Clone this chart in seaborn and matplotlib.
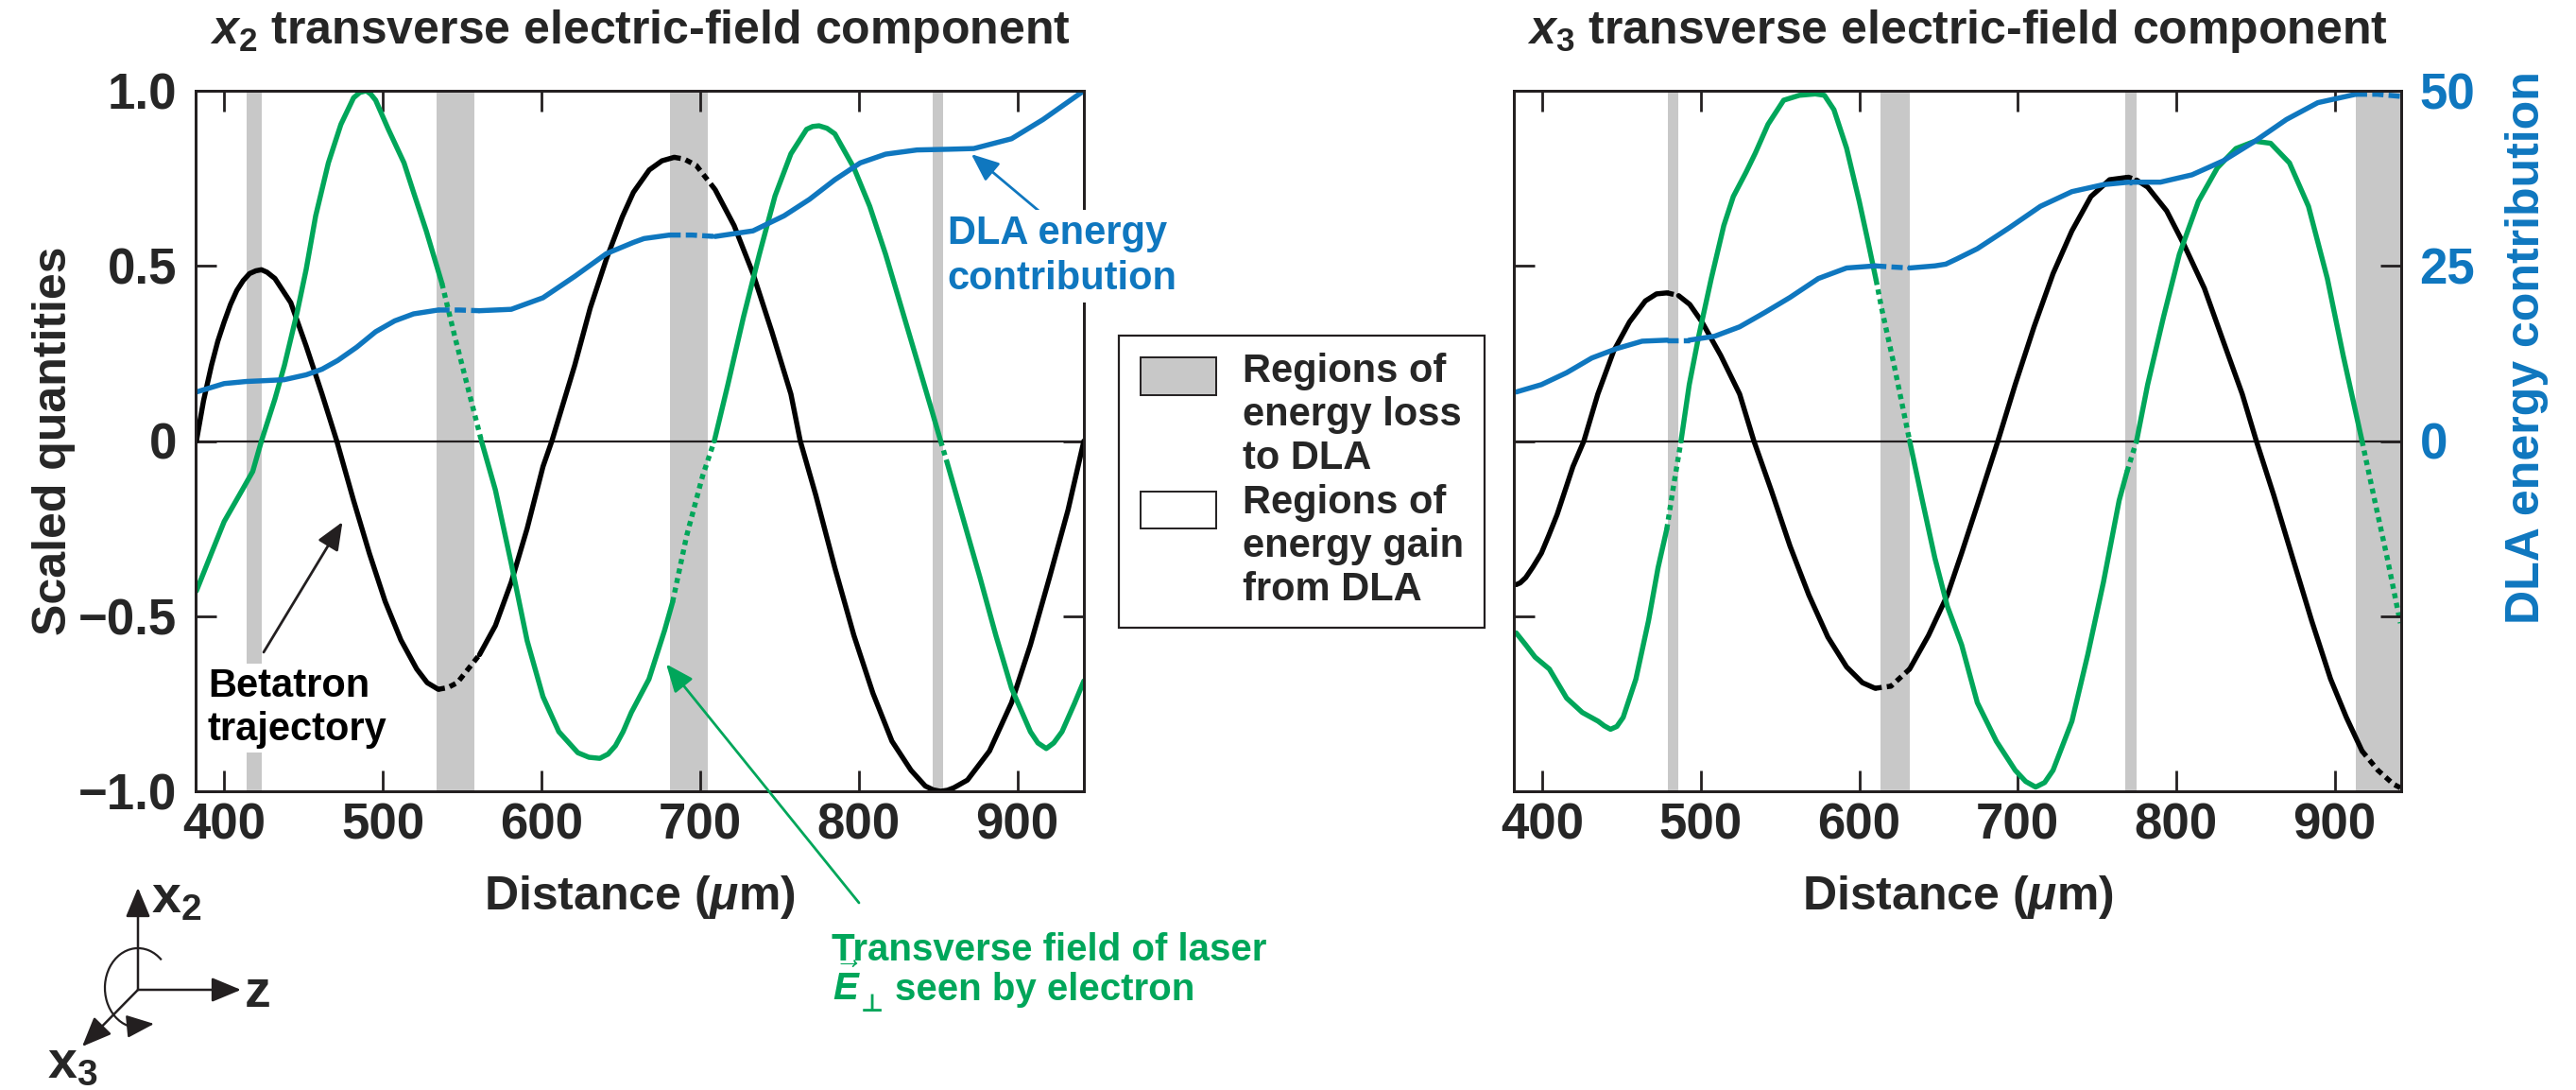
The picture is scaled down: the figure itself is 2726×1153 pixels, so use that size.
import matplotlib
matplotlib.use("Agg")
import matplotlib.pyplot as plt
import seaborn as sns
from matplotlib.patches import Rectangle, Arc

# ---------------- data ----------------
x_ticks = [400, 500, 600, 700, 800, 900]
y_ticks = [-1.0, -0.5, 0.0, 0.5, 1.0]
y_tick_labels = ["\u22121.0", "\u22120.5", "0", "0.5", "1.0"]
dla_ticks = [-25, 0, 25, 50]
dla_tick_labels = ["", "0", "25", "50"]

# ---- x2 panel ----
x2_loss = [(414, 424), (534, 558), (681.3, 704.8), (846.7, 853.3)]

x2_beta_z = [382.5, 387, 392, 396, 400, 404, 408, 412, 416, 420, 423.5, 427, 432, 442, 451.7, 461.7,
             471, 481.6, 491.5, 501.5, 511.4, 521.4, 528, 535, 541, 547, 561, 571, 581, 591, 601,
             606.6, 621, 630.8, 641, 651, 658, 668, 676, 683.7, 690, 697.6, 709.5, 721.5, 733.4,
             745.3, 757.3, 763.2, 773, 785, 797, 809, 821, 833, 842, 847, 851.7, 856, 860, 868.6,
             882.5, 896.4, 908.3, 920.3, 932, 942]
x2_beta = [0.0, 0.115, 0.216, 0.285, 0.34, 0.39, 0.43, 0.458, 0.478, 0.486, 0.489, 0.482, 0.464,
           0.395, 0.271, 0.134, 0.0, -0.17, -0.32, -0.458, -0.568, -0.651, -0.69, -0.709, -0.704,
           -0.69, -0.61, -0.527, -0.403, -0.25, -0.073, 0.0, 0.216, 0.38, 0.52, 0.64, 0.71, 0.774,
           0.80, 0.81, 0.805, 0.787, 0.718, 0.615, 0.478, 0.312, 0.134, 0.0, -0.155, -0.362,
           -0.555, -0.72, -0.857, -0.94, -0.985, -0.996, -1.0, -0.997, -0.99, -0.968, -0.885,
           -0.747, -0.582, -0.39, -0.197, 0.0]
x2_beta_dashed = [(535, 561), (683.7, 709.5)]

x2_field_z = [382.5, 392, 400, 412, 418, 423.5, 432, 438, 446, 451.7, 457.7, 465.7, 473.6, 481.6,
              485.5, 489.6, 492.5, 495.5, 503.5, 513.4, 519.4, 527.4, 537.3, 545.3, 553.2, 562.2,
              571, 581, 591, 601, 611, 623, 630, 636.8, 642, 646.7, 651.5, 656.7, 667.8, 677.7,
              682.7, 691.6, 701.6, 709, 717.5, 727.4, 737.4, 747.3, 757.3, 767.2, 771, 775, 780,
              785, 797, 807, 817, 827, 836.8, 846.7, 851.7, 856, 862.6, 876.5, 886.5, 896.4, 908.3,
              913, 918.3, 923, 928.2, 936, 942]
x2_field = [-0.428, -0.32, -0.23, -0.135, -0.087, 0.0, 0.12, 0.216, 0.367, 0.49, 0.643, 0.794,
            0.904, 0.98, 0.995, 1.0, 0.99, 0.973, 0.89, 0.794, 0.71, 0.60, 0.45, 0.30, 0.16, 0.0,
            -0.14, -0.35, -0.57, -0.73, -0.83, -0.89, -0.903, -0.906, -0.894, -0.87, -0.83, -0.775,
            -0.68, -0.54, -0.46, -0.27, -0.10, 0.0, 0.16, 0.354, 0.533, 0.70, 0.82, 0.89, 0.898,
            0.90, 0.893, 0.877, 0.78, 0.67, 0.533, 0.38, 0.23, 0.078, 0.0, -0.065, -0.17, -0.39,
            -0.555, -0.706, -0.83, -0.862, -0.878, -0.862, -0.83, -0.75, -0.685]
x2_field_dashed = [(537.3, 562.2), (682.7, 709), (851.7, 856)]

x2_dla_z = [382.5, 400, 414, 424, 437.8, 451.7, 461.7, 471.6, 483.6, 495.5, 507.5, 519.4, 535, 548,
            561, 581, 601, 621, 641, 658, 664.7, 680.7, 695, 709.5, 733.4, 753, 769, 785, 801,
            817, 836.8, 856.7, 872.6, 896.4, 916.3, 942]
x2_dla = [7.0, 8.2, 8.5, 8.6, 8.75, 9.45, 10.25, 11.5, 13.4, 15.6, 17.15, 18.15, 18.7, 18.7, 18.6,
          18.8, 20.45, 23.5, 26.75, 28.35, 28.9, 29.4, 29.4, 29.2, 30.0, 32.15, 34.5, 37.3, 39.7,
          40.95, 41.55, 41.65, 41.75, 43.15, 45.9, 50.0]
x2_dla_dashed = [(535, 561), (680.7, 709.5)]

# ---- x3 panel ----
x3_loss = [(479.3, 486), (613.4, 631.6), (768, 775), (913.5, 942)]

x3_beta_z = [383.5, 386, 389.5, 394, 399.4, 404, 409.3, 419.3, 426.2, 435, 445, 455, 465, 472,
             478.8, 486, 493, 500.7, 512.6, 524.5, 533.5, 544.4, 556.3, 568.2, 580.2, 592, 602, 610,
             620, 631.8, 643.7, 655.6, 664.6, 674.5, 687.5, 698.4, 710.3, 722.3, 734.2, 746.2, 758,
             768, 770, 775, 782, 794, 805, 817.8, 829.7, 841.7, 850.6, 861.6, 873.5, 885.5, 897.4,
             907.4, 917.3, 927.3, 937.2, 941.5]
x3_beta = [-0.41, -0.405, -0.39, -0.36, -0.32, -0.27, -0.21, -0.073, 0.0, 0.134, 0.257, 0.34, 0.40,
           0.42, 0.423, 0.415, 0.39, 0.34, 0.244, 0.134, 0.0, -0.14, -0.30, -0.44, -0.56, -0.645,
           -0.69, -0.706, -0.70, -0.651, -0.555, -0.44, -0.32, -0.183, 0.0, 0.161, 0.326, 0.478,
           0.60, 0.698, 0.746, 0.752, 0.753, 0.745, 0.725, 0.657, 0.56, 0.436, 0.285, 0.134, 0.0,
           -0.155, -0.334, -0.513, -0.679, -0.789, -0.885, -0.94, -0.98, -0.99]
x3_beta_dashed = [(478.8, 486), (610, 631.8), (768, 775), (917.3, 941.5)]

x3_field_z = [383.5, 389.5, 395.4, 404.4, 415.3, 425.2, 435.2, 439, 443, 447, 451, 459, 467, 473,
              478.5, 482.8, 487.5, 492.7, 498.7, 506.6, 514.5, 520.5, 528.5, 534.4, 542.4, 552.3,
              562.2, 572.2, 578, 584, 592, 600, 605, 610.6, 614, 622, 631.8, 639.8, 647.7, 655.6,
              664.6, 674.5, 686.5, 698.4, 705, 711.3, 717, 722.3, 734.2, 744.2, 754.1, 764, 769,
              775, 782, 792, 802, 814, 826, 837.7, 849.7, 859.6, 871.5, 883.5, 895.4, 905.4, 917.3,
              925.3, 933.2, 941.5]
x3_field = [-0.548, -0.582, -0.617, -0.651, -0.734, -0.775, -0.80, -0.813, -0.823, -0.815, -0.789,
            -0.68, -0.513, -0.362, -0.252, -0.128, 0.0, 0.161, 0.30, 0.464, 0.615, 0.698, 0.767,
            0.822, 0.904, 0.973, 0.987, 0.991, 0.987, 0.946, 0.836, 0.684, 0.58, 0.46, 0.381,
            0.216, 0.0, -0.17, -0.334, -0.472, -0.582, -0.747, -0.857, -0.94, -0.972, -0.988,
            -0.975, -0.94, -0.80, -0.61, -0.403, -0.17, -0.087, 0.0, 0.161, 0.354, 0.533, 0.684,
            0.78, 0.835, 0.856, 0.85, 0.794, 0.67, 0.464, 0.244, 0.0, -0.17, -0.334, -0.52]
x3_field_dashed = [(478.5, 487.5), (610.6, 631.8), (769, 775), (917.3, 941.5)]

x3_dla_z = [383.5, 399.4, 415.3, 431.2, 447, 463, 478.8, 492.7, 508.6, 524.5, 540.4, 556.3, 574.2,
            592, 610, 620, 631.8, 647.7, 654.6, 661.6, 674.5, 694.4, 714.3, 734.2, 754.1, 770, 772,
            790, 810, 829.7, 849.7, 869.6, 889.4, 913.4, 927, 941.5]
x3_dla = [7.0, 8.05, 9.75, 11.85, 13.2, 14.25, 14.4, 14.4, 14.95, 16.3, 18.35, 20.5, 23.2, 24.7,
          25.0, 24.85, 24.7, 25.0, 25.25, 26.0, 27.45, 30.4, 33.5, 35.6, 36.6, 36.95, 36.95, 36.95,
          38.0, 40.0, 42.8, 45.9, 48.3, 49.5, 49.5, 49.2]
x3_dla_dashed = [(478.8, 492.7), (610, 631.8), (770, 772), (913.4, 941.5)]

# ---------------- style ----------------
sns.set_theme(style="white")
plt.rcParams["font.family"] = ["Liberation Sans", "DejaVu Sans"]
plt.rcParams["font.weight"] = "bold"
plt.rcParams["mathtext.fontset"] = "custom"
plt.rcParams["mathtext.rm"] = "Liberation Sans:bold"
plt.rcParams["mathtext.it"] = "Liberation Sans:bold:italic"
plt.rcParams["mathtext.bf"] = "Liberation Sans:bold"
plt.rcParams["axes.unicode_minus"] = True

INK = "#231F20"
GREEN = "#00A65A"
BLUE = "#0F77BF"
GRAY = "#C8C8C8"
LW = 3.9
FS = 36
TFS = 38

fig = plt.figure(figsize=(27.26, 11.53), dpi=100)
W, H = 2726.0, 1153.0
bottom = 1 - 837 / H
ax_l = fig.add_axes([207 / W, bottom, 940 / W, 741 / H])
ax_r = fig.add_axes([1602 / W, bottom, 939 / W, 741 / H])


def draw_curve(ax, z, v, dashed, color, dash):
    runs = []
    idx, state = [0], None
    for i in range(len(z) - 1):
        mid = 0.5 * (z[i] + z[i + 1])
        st = any(a <= mid <= b for a, b in dashed)
        if state is None:
            state = st
        if st != state:
            runs.append((idx, state))
            idx, state = [i], st
        idx.append(i + 1)
    runs.append((idx, state))
    for idx, st in runs:
        sns.lineplot(x=[z[i] for i in idx], y=[v[i] for i in idx], ax=ax, color=color,
                     linewidth=LW, linestyle=dash if st else "-", sort=False,
                     estimator=None, legend=False, solid_capstyle="round",
                     solid_joinstyle="round", dash_capstyle="butt")


def style_spines(a):
    for s in a.spines.values():
        s.set_linewidth(2)
        s.set_color(INK)


def panel(ax, loss, beta, field, dla, title):
    for a, b in loss:
        ax.axvspan(a, b, color=GRAY, lw=0, zorder=0.5)
    ax.axhline(0, color=INK, lw=1.6, zorder=1)
    draw_curve(ax, *beta, color="black", dash=(0, (1.3, 1.0)))
    draw_curve(ax, *field, color=GREEN, dash=(0, (1.0, 0.9)))
    ax.set_xlim(382, 942)
    ax.set_ylim(-1, 1)
    ax.set_xticks(x_ticks, [str(t) for t in x_ticks])
    ax.tick_params(axis="both", direction="in", length=16, width=2, color=INK,
                   labelsize=TFS, bottom=True, top=True, left=True)
    ax.tick_params(axis="x", pad=8)
    ax.tick_params(axis="y", pad=14)
    ax.set_title(title, fontsize=FS, fontweight="bold", pad=36)
    ax.set_xlabel(r"Distance ($\mu$m)", fontsize=FS, fontweight="bold")
    ax.xaxis.set_label_coords(0.5, -0.118)
    ax.set_ylabel("")
    style_spines(ax)
    ax.grid(False)
    ax2 = ax.twinx()
    draw_curve(ax2, *dla, color=BLUE, dash=(0, (2.2, 1.0)))
    ax2.set_ylim(-50, 50)
    ax2.set_xlim(382, 942)
    ax2.grid(False)
    style_spines(ax2)
    return ax2


ax2_l = panel(ax_l, x2_loss, (x2_beta_z, x2_beta, x2_beta_dashed),
              (x2_field_z, x2_field, x2_field_dashed), (x2_dla_z, x2_dla, x2_dla_dashed),
              r"$x_2$ transverse electric-field component")
ax2_r = panel(ax_r, x3_loss, (x3_beta_z, x3_beta, x3_beta_dashed),
              (x3_field_z, x3_field, x3_field_dashed), (x3_dla_z, x3_dla, x3_dla_dashed),
              r"$x_3$ transverse electric-field component")

# left panel axes
ax_l.set_yticks(y_ticks, y_tick_labels)
ax_l.tick_params(axis="y", right=True)
ax_l.set_ylabel("Scaled quantities", fontsize=FS, fontweight="bold")
ax_l.yaxis.set_label_coords(-0.135, 0.5)
ax2_l.set_yticks([])
ax2_l.set_ylabel("")

# right panel axes
ax_r.set_yticks(y_ticks, [""] * len(y_ticks))
ax_r.tick_params(axis="y", right=False, labelleft=False)
ax2_r.set_yticks(dla_ticks, dla_tick_labels)
ax2_r.tick_params(axis="y", direction="in", length=16, width=2, color=INK, right=True,
                  labelsize=TFS, labelcolor=BLUE, pad=14)
ax2_r.set_ylabel("DLA energy contribution", fontsize=FS, fontweight="bold", color=BLUE)
ax2_r.yaxis.set_label_coords(1.117, 0.633)

arrow = "-|>,head_length=0.6,head_width=0.25"

# annotations, left panel
ax2_l.annotate("", xy=(871, 40.95), xytext=(914.9, 32.6),
               arrowprops=dict(arrowstyle=arrow, color=BLUE, lw=2, mutation_scale=30,
                               shrinkA=0, shrinkB=0))
ax2_l.text(856, 32.3, "DLA energy\ncontribution", color=BLUE, fontsize=30, fontweight="bold",
           ha="left", va="top", linespacing=1.25, clip_on=False, zorder=6,
           bbox=dict(boxstyle="square,pad=0.12", fc="white", ec="none"))
ax2_l.annotate("", xy=(474.6, -11.55), xytext=(424.9, -30.15),
               arrowprops=dict(arrowstyle=arrow, color=INK, lw=2, mutation_scale=30,
                               shrinkA=0, shrinkB=0))
ax2_l.text(389.7, -32.3, "Betatron\ntrajectory", color="black", fontsize=30, fontweight="bold",
           ha="left", va="top", linespacing=1.2, zorder=6,
           bbox=dict(boxstyle="square,pad=0.1", fc="white", ec="none"))
ax2_l.annotate("", xy=(678.7, -31.85), xytext=(909, H - 955), textcoords="figure pixels",
               annotation_clip=False,
               arrowprops=dict(arrowstyle=arrow, color=GREEN, lw=2, mutation_scale=30,
                               shrinkA=0, shrinkB=0))

# overlay in figure pixels (legend box, green caption, coordinate sketch)
ov = fig.add_axes([0, 0, 1, 1])
ov.set_xlim(0, W)
ov.set_ylim(H, 0)
ov.axis("off")
ov.patch.set_alpha(0)

ov.text(880, 1016, "Transverse field of laser", color=GREEN, fontsize=29, fontweight="bold",
        ha="left", va="baseline")
ov.text(881, 1058, r"$\vec{E}$", color=GREEN, fontsize=29, ha="left", va="baseline")
ov.text(911, 1070, "\u22a5", color=GREEN, fontsize=19, family=["DejaVu Sans"],
        ha="left", va="baseline")
ov.text(947, 1058, "seen by electron", color=GREEN, fontsize=29, fontweight="bold",
        ha="left", va="baseline")

# legend
ov.add_patch(Rectangle((1184, 355), 387, 309, fill=False, ec=INK, lw=1.6))
ov.add_patch(Rectangle((1207, 378), 80, 40, fc=GRAY, ec=INK, lw=1.4))
ov.add_patch(Rectangle((1207, 520), 80, 39, fc="white", ec=INK, lw=1.4))
ov.text(1315, 373, "Regions of\nenergy loss\nto DLA", fontsize=30, fontweight="bold",
        ha="left", va="top", linespacing=1.2)
ov.text(1315, 512, "Regions of\nenergy gain\nfrom DLA", fontsize=30, fontweight="bold",
        ha="left", va="top", linespacing=1.2)

# coordinate sketch
O = (146, 1047)
for tip in [(146, 939), (255, 1047), (87, 1107)]:
    ov.annotate("", xy=tip, xytext=O,
                arrowprops=dict(arrowstyle=arrow, color=INK, lw=1.8, mutation_scale=32,
                                shrinkA=0, shrinkB=0))
ov.add_patch(Arc((146, 1045), 70, 84, theta1=105, theta2=310, color=INK, lw=1.6))
ov.annotate("", xy=(163, 1083), xytext=(137, 1085.5),
            arrowprops=dict(arrowstyle=arrow, color=INK, lw=1.6, mutation_scale=30,
                            shrinkA=0, shrinkB=0))
ov.text(160, 965, r"$\mathbf{x}_\mathbf{2}$", fontsize=40, ha="left", va="baseline")
ov.text(259, 1065, "z", fontsize=40, fontweight="heavy", ha="left", va="baseline")
ov.text(50, 1140, r"$\mathbf{x}_\mathbf{3}$", fontsize=40, ha="left", va="baseline")

fig.savefig("out.png", dpi=100)
